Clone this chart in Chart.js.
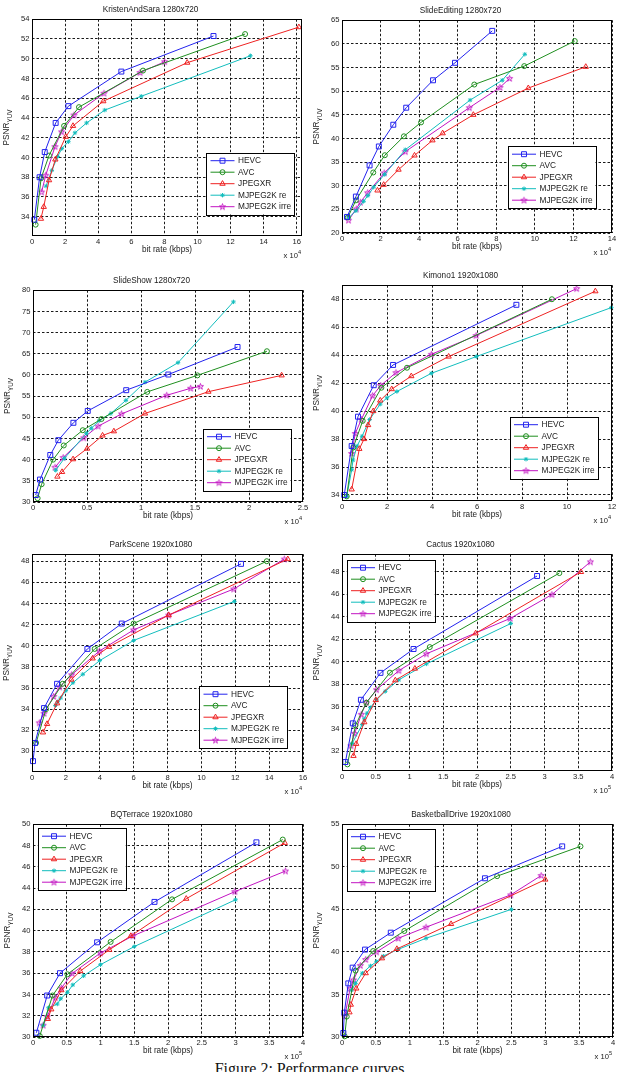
<!DOCTYPE html>
<html><head><meta charset="utf-8">
<script src="https://cdn.jsdelivr.net/npm/chart.js@4"></script>
<style>
html,body{margin:0;padding:0;background:#fff;overflow:hidden;width:619px;height:1072px;position:relative}
#cap{position:absolute;left:0;width:619px;text-align:center;font-family:"Liberation Serif","DejaVu Serif",serif;font-size:16px;line-height:16px;top:1061px;color:#111;white-space:nowrap}
</style></head><body>
<div id="cap">Figure 2: Performance curves</div>
<script>
// ---------- DATA ----------
const seriesNames = ['HEVC','AVC','JPEGXR','MJPEG2K re','MJPEG2K irre'];
const panelTitles = ['KristenAndSara 1280x720','SlideEditing 1280x720','SlideShow 1280x720','Kimono1 1920x1080','ParkScene 1920x1080','Cactus 1920x1080','BQTerrace 1920x1080','BasketballDrive 1920x1080'];
const xAxisTitle = 'bit rate (kbps)';
const yAxisTitle = 'PSNR';
const yAxisSub = 'YUV';
const xExponents = [4,4,4,4,4,5,5,5];

// KristenAndSara (x 10^4 kbps)
const ksHEVC  = [[0.14,33.7],[0.46,38.0],[0.77,40.55],[1.43,43.5],[2.2,45.2],[5.4,48.7],[10.97,52.3]];
const ksAVC   = [[0.22,33.2],[0.55,37.9],[1.03,40.2],[1.94,43.2],[2.84,45.1],[6.71,48.8],[12.88,52.5]];
const ksJPEGXR= [[0.54,33.8],[0.71,35.0],[1.03,37.7],[1.41,39.8],[2.04,42.1],[2.48,43.2],[4.31,45.7],[9.38,49.6],[16.13,53.2]];
const ksRe    = [[0.85,37.1],[1.2,38.7],[1.55,40.1],[1.8,40.9],[2.2,41.6],[2.6,42.5],[3.3,43.5],[4.4,44.8],[6.6,46.2],[13.2,50.3]];
const ksIrre  = [[0.58,36.5],[0.83,38.2],[1.39,41.1],[1.79,42.6],[2.54,44.3],[4.35,46.5],[6.53,48.6],[8.02,49.7]];
const ksXTicks = [0,2,4,6,8,10,12,14,16];
const ksYTicks = [34,36,38,40,42,44,46,48,50,52,54];

// SlideEditing (x 10^4)
const seHEVC  = [[0.26,23.4],[0.72,27.7],[1.43,34.3],[1.91,38.3],[2.66,42.9],[3.33,46.5],[4.72,52.3],[5.86,56.0],[7.79,62.75]];
const seAVC   = [[0.3,23.3],[0.72,26.9],[1.62,32.8],[2.22,36.45],[3.21,40.45],[4.1,43.4],[6.86,51.4],[9.45,55.3],[12.07,60.6]];
const seJPEGXR= [[1.84,29.0],[2.16,30.2],[2.93,33.4],[3.76,36.4],[4.69,39.6],[5.22,41.1],[6.81,45.0],[9.66,50.65],[12.64,55.15]];
const seRe    = [[0.34,23.2],[0.72,24.7],[1.12,26.7],[1.34,27.9],[1.64,29.7],[2.21,32.4],[3.28,37.6],[6.64,48.1],[8.31,52.3],[9.48,57.8]];
const seIrre  = [[0.34,22.7],[0.74,25.1],[0.95,26.5],[1.33,28.5],[2.19,32.7],[3.28,37.2],[6.6,46.5],[8.19,50.8],[8.69,52.7]];
const seXTicks = [0,2,4,6,8,10,12,14];
const seYTicks = [20,25,30,35,40,45,50,55,60,65];

// SlideShow (x 10^4)
const ssHEVC  = [[0.025,31.65],[0.065,35.3],[0.16,41.1],[0.235,44.6],[0.374,48.7],[0.507,51.5],[0.863,56.4],[1.253,60.1],[1.894,66.6]];
const ssAVC   = [[0.043,30.9],[0.08,34.2],[0.186,40.0],[0.285,43.35],[0.461,46.95],[0.634,49.6],[1.058,56.0],[1.522,59.9],[2.166,65.6]];
const ssJPEGXR= [[0.226,36.0],[0.269,37.1],[0.371,40.1],[0.501,42.6],[0.644,45.7],[0.749,46.7],[1.037,50.9],[1.624,56.05],[2.302,59.9]];
const ssRe    = [[0.21,37.5],[0.29,40.3],[0.495,46.2],[0.54,47.4],[0.613,49.2],[0.721,50.9],[0.86,54.0],[1.037,58.3],[1.343,62.9],[1.856,77.25]];
const ssIrre  = [[0.204,38.2],[0.279,40.5],[0.47,45.15],[0.603,47.9],[0.82,50.8],[1.238,55.2],[1.46,56.85],[1.55,57.3]];
const ssXTicks = [0,0.5,1,1.5,2,2.5];
const ssYTicks = [30,35,40,45,50,55,60,65,70,75,80];

// Kimono1 (x 10^4)
const kiHEVC  = [[0.1,34.0],[0.43,37.5],[0.71,39.6],[1.41,41.85],[2.27,43.3],[7.75,47.6]];
const kiAVC   = [[0.21,33.9],[0.5,37.4],[0.92,39.3],[1.75,41.67],[2.89,43.1],[9.33,48.0]];
const kiJPEGXR= [[0.43,34.4],[0.77,37.3],[0.98,38.0],[1.16,39.0],[1.39,40.0],[1.7,40.76],[2.21,41.57],[3.08,42.5],[4.74,43.9],[11.26,48.57]];
const kiRe    = [[0.21,33.9],[0.43,35.8],[0.49,36.5],[0.67,37.5],[0.89,38.2],[1.23,39.4],[1.7,40.5],[2.0,40.95],[2.44,41.4],[3.97,42.7],[5.97,43.9],[11.97,47.4]];
const kiIrre  = [[0.43,36.97],[0.59,38.4],[0.86,39.4],[1.36,41.1],[1.72,41.83],[2.4,42.75],[3.97,44.06],[5.96,45.4],[10.43,48.76]];
const kiXTicks = [0,2,4,6,8,10,12];
const kiYTicks = [34,36,38,40,42,44,46,48];

// ParkScene (x 10^4)
const psHEVC  = [[0.06,29.08],[0.18,30.8],[0.71,34.1],[1.48,36.4],[3.27,39.7],[5.3,42.1],[12.34,47.75]];
const psAVC   = [[0.24,30.8],[0.83,34.0],[1.81,36.4],[3.7,39.7],[6.0,42.1],[13.86,48.0]];
const psJPEGXR= [[0.65,31.8],[0.89,32.6],[1.48,34.55],[2.32,36.8],[3.58,38.8],[4.55,39.9],[8.07,42.9],[15.1,48.2]];
const psRe    = [[1.38,34.35],[1.52,34.7],[1.69,35.05],[2.0,35.75],[2.42,36.5],[3.0,37.3],[4.0,38.6],[6.0,40.5],[11.95,44.2]];
const psIrre  = [[0.43,32.7],[0.71,33.6],[1.28,35.2],[1.63,36.1],[2.34,37.25],[3.98,39.5],[6.0,41.5],[8.07,42.9],[11.91,45.37],[14.9,48.2]];
const psXTicks = [0,2,4,6,8,10,12,14,16];
const psYTicks = [30,32,34,36,38,40,42,44,46,48];

// Cactus (x 10^5)
const caHEVC  = [[0.05,31.05],[0.16,34.5],[0.28,36.6],[0.57,39.0],[1.06,41.13],[2.89,47.64]];
const caAVC   = [[0.08,30.84],[0.2,34.32],[0.36,36.34],[0.71,39.02],[1.3,41.3],[3.22,47.9]];
const caJPEGXR= [[0.17,31.6],[0.21,32.67],[0.33,34.6],[0.5,36.58],[0.79,38.34],[1.08,39.38],[1.98,42.53],[3.54,48.0]];
const caRe    = [[0.15,32.7],[0.3,34.4],[0.33,34.9],[0.37,35.4],[0.42,35.9],[0.51,36.6],[0.64,37.35],[0.84,38.37],[1.25,39.8],[2.5,43.4]];
const caIrre  = [[0.133,32.5],[0.187,33.6],[0.286,35.3],[0.36,36.35],[0.512,37.5],[0.842,39.2],[1.25,40.7],[2.49,43.85],[3.11,45.98],[3.68,48.9]];
const caXTicks = [0,0.5,1,1.5,2,2.5,3,3.5,4];
const caYTicks = [32,34,36,38,40,42,44,46,48];

// BQTerrace (x 10^5)
const bqHEVC  = [[0.05,30.4],[0.21,33.9],[0.4,36.0],[0.95,38.9],[1.8,42.7],[3.31,48.3]];
const bqAVC   = [[0.1,30.1],[0.29,33.9],[0.51,35.9],[1.15,38.94],[2.06,42.94],[3.7,48.56]];
const bqJPEGXR= [[0.22,31.7],[0.27,32.6],[0.42,34.4],[0.7,36.2],[1.13,38.2],[1.45,39.5],[2.27,43.0],[3.73,48.25]];
const bqRe    = [[0.15,31.1],[0.23,32.75],[0.36,33.1],[0.41,33.6],[0.51,34.2],[0.59,34.9],[0.75,35.75],[1.0,36.8],[1.5,38.5],[3.0,42.9]];
const bqIrre  = [[0.15,31.1],[0.21,31.9],[0.33,33.7],[0.42,34.6],[0.58,35.97],[1.0,37.9],[1.48,39.5],[2.99,43.66],[3.74,45.6]];
const bqXTicks = [0,0.5,1,1.5,2,2.5,3,3.5,4];
const bqYTicks = [30,32,34,36,38,40,42,44,46,48,50];

// BasketballDrive (x 10^5)
const bdHEVC  = [[0.02,30.47],[0.034,32.86],[0.093,36.3],[0.157,38.15],[0.34,40.27],[0.72,42.26],[2.11,48.65],[3.25,52.4]];
const bdAVC   = [[0.04,30.08],[0.07,32.4],[0.2,37.8],[0.46,40.1],[0.92,42.46],[2.29,48.9],[3.52,52.4]];
const bdJPEGXR= [[0.11,32.9],[0.13,33.8],[0.21,35.7],[0.35,37.5],[0.59,39.25],[0.81,40.35],[1.61,43.28],[3.0,48.5]];
const bdRe    = [[0.14,35.5],[0.2,36.3],[0.3,37.5],[0.42,38.35],[0.51,38.85],[0.61,39.5],[0.83,40.3],[1.24,41.6],[2.5,45.0]];
const bdIrre  = [[0.04,32.4],[0.12,35.7],[0.17,36.7],[0.27,38.4],[0.35,39.1],[0.51,40.0],[0.83,41.6],[1.24,42.9],[2.49,46.7],[2.94,48.97]];
const bdXTicks = [0,0.5,1,1.5,2,2.5,3,3.5,4];
const bdYTicks = [30,35,40,45,50,55];

// ---------- LAYOUT ----------
const panelSeries = [
  [ksHEVC,ksAVC,ksJPEGXR,ksRe,ksIrre],[seHEVC,seAVC,seJPEGXR,seRe,seIrre],
  [ssHEVC,ssAVC,ssJPEGXR,ssRe,ssIrre],[kiHEVC,kiAVC,kiJPEGXR,kiRe,kiIrre],
  [psHEVC,psAVC,psJPEGXR,psRe,psIrre],[caHEVC,caAVC,caJPEGXR,caRe,caIrre],
  [bqHEVC,bqAVC,bqJPEGXR,bqRe,bqIrre],[bdHEVC,bdAVC,bdJPEGXR,bdRe,bdIrre]
];
const panelXTicks = [ksXTicks,seXTicks,ssXTicks,kiXTicks,psXTicks,caXTicks,bqXTicks,bdXTicks];
const panelYTicks = [ksYTicks,seYTicks,ssYTicks,kiYTicks,psYTicks,caYTicks,bqYTicks,bdYTicks];
const frames = [
  {L:32,T:19,R:302,B:236, xmin:0,xmax:16.32,ymin:32.05,ymax:54, leg:[206,152.5]},
  {L:342,T:20,R:612,B:233, xmin:0,xmax:14,ymin:20,ymax:65, leg:[507.5,146]},
  {L:33,T:290,R:303,B:502, xmin:0,xmax:2.5,ymin:30,ymax:80, leg:[202.5,428.5]},
  {L:342,T:285,R:612,B:501, xmin:0,xmax:12,ymin:33.57,ymax:49, leg:[509.5,416.5]},
  {L:32,T:554,R:303,B:772, xmin:0,xmax:16,ymin:28.05,ymax:48.66, leg:[199,686]},
  {L:342,T:554,R:612,B:771, xmin:0,xmax:4,ymin:30.25,ymax:49.58, leg:[346.5,559.5]},
  {L:33,T:824,R:303,B:1037, xmin:0,xmax:4,ymin:30,ymax:50, leg:[37.5,828]},
  {L:342,T:824,R:613,B:1037, xmin:0,xmax:4,ymin:30,ymax:55, leg:[346.5,828.5]}
];
const FONT = '"Liberation Sans", Arial, Helvetica, sans-serif';
const TXT = '#1a1a1a';
const colors = ['#2323ee','#1f8f1f','#ee2222','#12bdbd','#c214c2'];

const pentagram = (() => {
  const c = document.createElement('canvas'); c.width = 9; c.height = 9;
  const g = c.getContext('2d'); g.strokeStyle = colors[4]; g.lineWidth = 0.9;
  g.beginPath();
  for (let i = 0; i < 10; i++) {
    const r = i % 2 ? 1.25 : 3.2; const a = -Math.PI/2 + i*Math.PI/5;
    const px = 4.5 + r*Math.cos(a), py = 4.7 + r*Math.sin(a);
    if (i) g.lineTo(px, py); else g.moveTo(px, py);
  }
  g.closePath(); g.stroke();
  return c;
})();
const markers = [
  {style:'rect', r:3.5}, {style:'circle', r:2.5}, {style:'triangle', r:3.1},
  {style:'star', r:2.2}, {style:pentagram, r:3}
];

const decoPlugin = {
  id: 'deco',
  afterDatasetsDraw(chart, args, opts) {
    const ctx = chart.ctx;
    const lx = opts.legX, ly = opts.legY, lw = 88, lh = 62;
    ctx.save();
    ctx.fillStyle = '#fff'; ctx.fillRect(lx, ly, lw, lh);
    ctx.strokeStyle = '#000'; ctx.lineWidth = 1; ctx.setLineDash([]);
    ctx.strokeRect(Math.round(lx)+0.5, Math.round(ly)+0.5, lw, lh);
    chart.data.datasets.forEach((ds, i) => {
      const y = ly + 8.2 + i*11.5;
      ctx.strokeStyle = ds.borderColor; ctx.lineWidth = 1;
      ctx.beginPath(); ctx.moveTo(lx+4.5, y); ctx.lineTo(lx+28.5, y); ctx.stroke();
      ctx.fillStyle = 'rgba(0,0,0,0)';
      Chart.helpers.drawPoint(ctx, {pointStyle: ds.pointStyle, radius: ds.pointRadius, borderWidth: 1, rotation: 0}, lx+16.5, y);
      ctx.fillStyle = TXT; ctx.font = '8.3px ' + FONT; ctx.textBaseline = 'middle'; ctx.textAlign = 'left';
      ctx.fillText(ds.label, lx+32, y+0.5);
    });
    ctx.restore();
  },
  afterDraw(chart, args, opts) {
    const ctx = chart.ctx, a = chart.chartArea;
    ctx.save();
    ctx.setLineDash([]); ctx.strokeStyle = '#000'; ctx.lineWidth = 1;
    ctx.strokeRect(Math.round(a.left)+0.5, Math.round(a.top)+0.5, Math.round(a.right-a.left)-1, Math.round(a.bottom-a.top)-1);
    // y-axis title with subscript
    ctx.fillStyle = TXT; ctx.textBaseline = 'middle'; ctx.textAlign = 'left';
    ctx.translate(a.left - 25, (a.top + a.bottom)/2);
    ctx.rotate(-Math.PI/2);
    ctx.font = '8.3px ' + FONT; const wP = ctx.measureText(yAxisTitle).width;
    ctx.font = '6.3px ' + FONT; const wS = ctx.measureText(yAxisSub).width;
    const x0 = -(wP + wS)/2;
    ctx.font = '8.3px ' + FONT; ctx.fillText(yAxisTitle, x0, 0);
    ctx.font = '6.3px ' + FONT; ctx.fillText(yAxisSub, x0 + wP, 3);
    ctx.restore();
    // x 10^n label
    ctx.save();
    ctx.fillStyle = TXT; ctx.textBaseline = 'middle'; ctx.textAlign = 'left';
    ctx.font = '5.6px ' + FONT; const we = ctx.measureText(String(opts.exp)).width;
    ctx.font = '7.6px ' + FONT; const wb = ctx.measureText('x 10').width;
    const xr = a.right - 1;
    ctx.fillText('x 10', xr - we - wb, a.bottom + 20);
    ctx.font = '5.6px ' + FONT; ctx.fillText(String(opts.exp), xr - we, a.bottom + 16.5);
    ctx.restore();
  }
};

const fmt = v => String(Math.round(v*100)/100);

frames.forEach((f, p) => {
  const cl = f.L - 33, ct = f.T - 19;
  const w = (f.R - f.L) + 33 + 8, h = (f.B - f.T) + 19 + 23 + 10;
  const cv = document.createElement('canvas');
  cv.width = w; cv.height = h;
  cv.style.cssText = `position:absolute;left:${cl}px;top:${ct}px;width:${w}px;height:${h}px`;
  document.body.appendChild(cv);
  const xT = panelXTicks[p], yT = panelYTicks[p];
  const datasets = panelSeries[p].map((d, i) => ({
    label: seriesNames[i], data: d,
    borderColor: colors[i], backgroundColor: 'rgba(0,0,0,0)',
    borderWidth: 1, tension: 0, fill: false,
    pointStyle: markers[i].style, pointRadius: markers[i].r,
    pointBorderColor: colors[i], pointBackgroundColor: 'rgba(0,0,0,0)', pointBorderWidth: 1,
    clip: 5
  }));
  new Chart(cv, {
    type: 'line',
    data: { datasets },
    options: {
      responsive: false, animation: false, devicePixelRatio: 1,
      events: [],
      layout: { padding: { left: 0, top: 0, right: 8, bottom: 10 } },
      scales: {
        x: {
          type: 'linear', min: f.xmin, max: f.xmax,
          afterBuildTicks: s => { s.ticks = xT.map(v => ({value: v})); },
          afterFit: s => { s.height = 23; },
          ticks: { autoSkip: false, maxRotation: 0, padding: 1.5, color: TXT, font: {family: FONT, size: 7.6}, callback: fmt },
          grid: { color: '#000', lineWidth: 0.9, drawTicks: false },
          border: { display: false, dash: [2.5, 2] },
          title: { display: true, text: xAxisTitle, color: TXT, font: {family: FONT, size: 8.2}, padding: {top: 0, bottom: 4} }
        },
        y: {
          type: 'linear', min: f.ymin, max: f.ymax,
          afterBuildTicks: s => { s.ticks = yT.map(v => ({value: v})); },
          afterFit: s => { s.width = 33; },
          ticks: { autoSkip: false, padding: 2.5, color: TXT, font: {family: FONT, size: 7.6}, callback: fmt },
          grid: { color: '#000', lineWidth: 0.9, drawTicks: false },
          border: { display: false, dash: [2.5, 2] }
        }
      },
      plugins: {
        legend: { display: false },
        tooltip: { enabled: false },
        title: { display: true, text: panelTitles[p], color: TXT, font: {family: FONT, size: 8.2, weight: 'normal'}, padding: {top: 5, bottom: 4.4} },
        deco: { legX: f.leg[0] - cl, legY: f.leg[1] - ct, exp: xExponents[p] }
      }
    },
    plugins: [decoPlugin]
  });
});
</script>
</body></html>
